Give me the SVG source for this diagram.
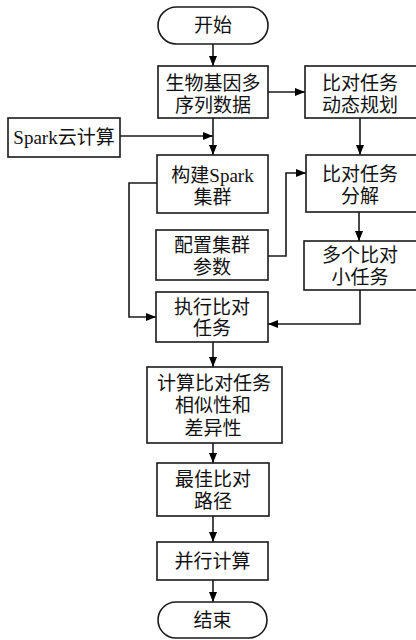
<svg xmlns="http://www.w3.org/2000/svg" width="416" height="640" viewBox="0 0 416 640">
<defs>
<marker id="ah" markerUnits="userSpaceOnUse" markerWidth="10" markerHeight="8" refX="10" refY="4" orient="auto">
<path d="M0,0 L10,4 L0,8 Z" fill="#000"/>
</marker>
<style>
.box{fill:#fff;stroke:#1a1a1a;stroke-width:1.6}
.t{font-family:"Liberation Serif","Noto Sans CJK SC",serif;font-size:19px;fill:#111;text-anchor:middle;dominant-baseline:central}
.c{fill:none;stroke:#1a1a1a;stroke-width:1.6}
</style>
</defs>
<rect width="416" height="640" fill="#fff"/>
<g id="connectors">
<path class="c" d="M213,44 V66" marker-end="url(#ah)"/>
<path class="c" d="M268,92 H305" marker-end="url(#ah)"/>
<path class="c" d="M213,118 V155" marker-end="url(#ah)"/>
<path class="c" d="M120,136 H213" marker-end="url(#ah)"/>
<path class="c" d="M360,118 V155" marker-end="url(#ah)"/>
<path class="c" d="M157,183 H129 V317 H156" marker-end="url(#ah)"/>
<path class="c" d="M268,256 H286 V173 H306" marker-end="url(#ah)"/>
<path class="c" d="M359,212 V241" marker-end="url(#ah)"/>
<path class="c" d="M360,290 V324 H268" marker-end="url(#ah)"/>
<path class="c" d="M213,342 V367" marker-end="url(#ah)"/>
<path class="c" d="M213,443 V463" marker-end="url(#ah)"/>
<path class="c" d="M213,516 V542" marker-end="url(#ah)"/>
<path class="c" d="M213,580 V602" marker-end="url(#ah)"/>
</g>
<g id="start"><rect class="box" x="158" y="7" width="110" height="37" rx="18.5"/><text class="t" x="213" y="25.5">开始</text></g>
<g id="data"><rect class="box" x="158" y="66" width="110" height="52"/><text class="t" x="213" y="83">生物基因多</text><text class="t" x="213" y="105">序列数据</text></g>
<g id="plan"><rect class="box" x="305" y="66" width="113" height="52"/><text class="t" x="360" y="83">比对任务</text><text class="t" x="360" y="105">动态规划</text></g>
<g id="spark"><rect class="box" x="8" y="118" width="112" height="39"/><text class="t" x="64" y="137.5">Spark云计算</text></g>
<g id="build"><rect class="box" x="157" y="155" width="111" height="58"/><text class="t" x="212.5" y="175">构建Spark</text><text class="t" x="212.5" y="197">集群</text></g>
<g id="decompose"><rect class="box" x="306" y="155" width="112" height="57"/><text class="t" x="360" y="174">比对任务</text><text class="t" x="360" y="196">分解</text></g>
<g id="config"><rect class="box" x="156" y="230" width="112" height="50"/><text class="t" x="212" y="245">配置集群</text><text class="t" x="212" y="267">参数</text></g>
<g id="subtasks"><rect class="box" x="304" y="241" width="114" height="49"/><text class="t" x="360" y="255">多个比对</text><text class="t" x="360" y="277">小任务</text></g>
<g id="exec"><rect class="box" x="156" y="292" width="112" height="50"/><text class="t" x="212" y="307">执行比对</text><text class="t" x="212" y="328">任务</text></g>
<g id="compute"><rect class="box" x="147" y="367" width="135" height="76"/><text class="t" x="214" y="383">计算比对任务</text><text class="t" x="213" y="405">相似性和</text><text class="t" x="213" y="428">差异性</text></g>
<g id="best"><rect class="box" x="157" y="463" width="112" height="53"/><text class="t" x="213" y="479">最佳比对</text><text class="t" x="213" y="501">路径</text></g>
<g id="parallel"><rect class="box" x="157" y="542" width="111" height="38"/><text class="t" x="212.5" y="561">并行计算</text></g>
<g id="end"><rect class="box" x="158" y="602" width="109" height="36" rx="18"/><text class="t" x="212.5" y="620.5">结束</text></g>
</svg>
